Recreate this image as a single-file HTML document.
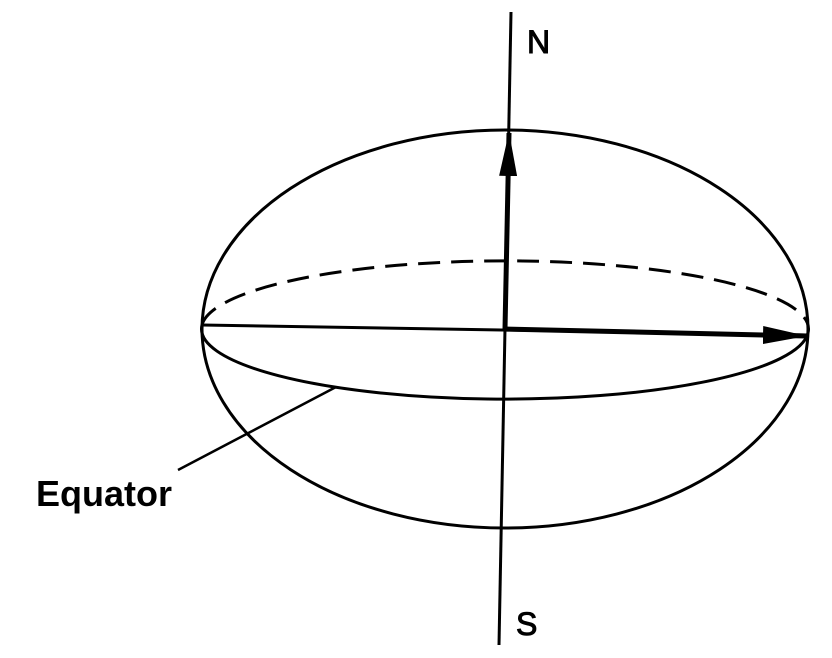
<!DOCTYPE html>
<html><head><meta charset="utf-8"><style>
html,body{margin:0;padding:0;background:#fff;}
svg{display:block;}
text{font-family:"Liberation Sans",Arial,sans-serif;fill:#000;}
</style></head><body>
<svg width="832" height="658" viewBox="0 0 832 658">
<defs>
<marker id="ah2" markerWidth="44" markerHeight="18" refX="43" refY="9" orient="auto" markerUnits="userSpaceOnUse" viewBox="0 0 44 18">
<path d="M0,0 L44,9 L0,18 Z" fill="#000"/></marker>
</defs>
<ellipse cx="505" cy="329" rx="303" ry="199" fill="none" stroke="#000" stroke-width="3"/>
<path d="M202,325 A303,68 0 0 1 808,333" fill="none" stroke="#000" stroke-width="3" stroke-dasharray="22,11"/>
<path d="M202,325 A303,70 0 0 0 808,333" fill="none" stroke="#000" stroke-width="3"/>
<line x1="202" y1="325" x2="808" y2="335" stroke="#000" stroke-width="3"/>
<line x1="511" y1="12" x2="499" y2="645" stroke="#000" stroke-width="3"/>
<line x1="505" y1="329" x2="509" y2="133" stroke="#000" stroke-width="5" marker-end="url(#ah2)"/>
<line x1="505" y1="329" x2="806" y2="336" stroke="#000" stroke-width="5" marker-end="url(#ah2)"/>
<line x1="336" y1="387" x2="178" y2="470" stroke="#000" stroke-width="2.5"/>
<text x="36" y="506" font-size="36" font-weight="bold">Equator</text>
<text x="527" y="53" font-size="32" stroke="#000" stroke-width="1">N</text>
<text x="516" y="635" font-size="32" stroke="#000" stroke-width="1">S</text>
</svg>
</body></html>
